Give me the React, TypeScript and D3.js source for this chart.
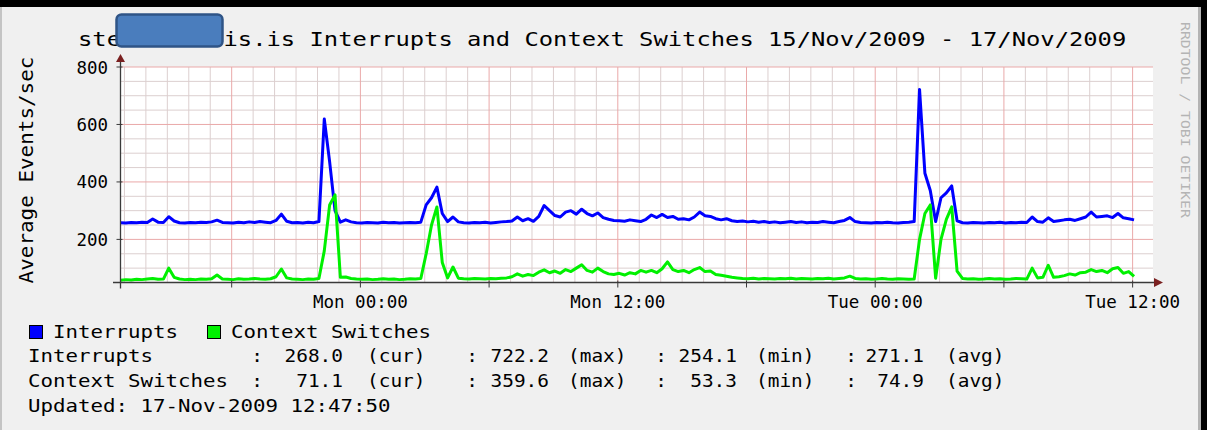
import React from 'react';
import * as d3 from 'd3';

// ---------------- data ----------------
const startTime = new Date(2009, 10, 15, 12, 49);
const endTime = new Date(2009, 10, 17, 12, 57);
const stepMinutes = 15;

const interrupts = [
  258, 257, 259, 258, 260, 259, 271, 260, 259, 279,
  264, 258, 257, 259, 258, 260, 259, 261, 267, 259,
  258, 257, 260, 258, 261, 259, 262, 260, 258, 266,
  288, 263, 258, 259, 257, 260, 258, 262, 619, 470,
  300, 260, 268, 261, 258, 257, 259, 258, 257, 260,
  258, 259, 257, 258, 259, 258, 260, 320, 345, 382,
  290, 262, 278, 261, 258, 257, 259, 258, 260, 257,
  259, 261, 262, 264, 278, 265, 272, 263, 280, 318,
  300, 283, 278, 295, 300, 288, 305, 290, 282, 292,
  276, 270, 266, 265, 263, 268, 265, 262, 270, 285,
  276, 287, 276, 280, 270, 272, 268, 278, 295, 282,
  280, 272, 268, 272, 265, 262, 264, 261, 263, 260,
  262, 259, 261, 258, 260, 262, 259, 261, 258, 260,
  259, 262, 260, 258, 262, 266, 276, 262, 259, 258,
  257, 259, 258, 260, 258, 257, 259, 260, 262, 722,
  430, 370, 262, 345, 362, 386, 265, 258, 257, 259,
  258, 257, 259, 258, 260, 257, 259, 258, 260, 259,
  278, 262, 260, 275, 262, 265, 268, 270, 266, 272,
  278, 295, 278, 280, 282, 276, 290, 275, 272, 268,
];

const contextSwitches = [
  58, 60, 59, 61, 60, 62, 64, 61, 62, 100,
  68, 62, 60, 61, 60, 62, 61, 63, 76, 62,
  61, 60, 63, 61, 62, 64, 62, 61, 63, 70,
  97, 66, 62, 61, 60, 62, 61, 64, 160, 320,
  355, 68, 69, 64, 62, 61, 62, 60, 61, 63,
  61, 62, 60, 61, 63, 62, 64, 150, 250, 313,
  120, 66, 104, 65, 63, 62, 64, 63, 62, 64,
  63, 65, 66, 70, 80, 72, 78, 74, 86, 94,
  84, 90, 82, 95, 88, 100, 112, 92, 86, 100,
  88, 80, 78, 82, 76, 84, 80, 92, 86, 92,
  84, 98, 122, 95, 88, 92, 84, 95, 102, 88,
  90, 78, 75, 72, 68, 66, 64, 63, 65, 62,
  64, 63, 62, 64, 63, 65, 62, 64, 63, 62,
  64, 63, 65, 62, 64, 66, 72, 64, 62, 63,
  61, 62, 64, 62, 61, 63, 62, 61, 62, 200,
  290, 320, 65, 200, 270, 313, 90, 64, 62, 63,
  61, 62, 64, 62, 63, 61, 62, 64, 63, 62,
  100, 66, 68, 110, 68, 70, 74, 80, 76, 84,
  86, 95, 88, 92, 84, 98, 102, 82, 88, 71,
];

const yTickValues = [200, 400, 600, 800];
const xTickTimes = [
  new Date(2009, 10, 16, 0, 0),
  new Date(2009, 10, 16, 12, 0),
  new Date(2009, 10, 17, 0, 0),
  new Date(2009, 10, 17, 12, 0),
];
const xTickLabels = ['Mon 00:00', 'Mon 12:00', 'Tue 00:00', 'Tue 12:00'];

const seriesNames = ['Interrupts', 'Context Switches'];
const seriesColors = ['#0000ff', '#00f000'];
const interruptsStats = ['268.0', '722.2', '254.1', '271.1'];
const contextStats = ['71.1', '359.6', '53.3', '74.9'];
const statLabels = ['(cur)', '(max)', '(min)', '(avg)'];

const titleStart = 'ste';
const titleRest = 'is.is Interrupts and Context Switches 15/Nov/2009 - 17/Nov/2009';
const yAxisTitle = 'Average Events/sec';
const sideText = 'RRDTOOL / TOBI OETIKER';
const updatedText = 'Updated: 17-Nov-2009 12:47:50';

// ---------------- layout ----------------
const W = 1207;
const H = 430;
const PL = 120.5;
const PR = 1153;
const PT = 67;
const PB = 282.5;
const MONO = "'DejaVu Sans Mono', monospace";

type TProps = {
  x: number; y: number; text: string; size: number; pitch: number;
  anchor?: 'start' | 'middle' | 'end'; fill?: string; transform?: string;
};
function T({ x, y, text, size, pitch, anchor = 'start', fill = '#000', transform }: TProps) {
  return (
    <text
      x={x}
      y={y}
      transform={transform}
      fontFamily={MONO}
      fontSize={size}
      textLength={text.length * pitch}
      lengthAdjust="spacingAndGlyphs"
      textAnchor={anchor}
      fill={fill}
      style={{ whiteSpace: 'pre' }}
    >
      {text}
    </text>
  );
}

export default function App() {
  const x = d3.scaleTime().domain([startTime, endTime]).range([PL, PR]);
  const y = d3.scaleLinear().domain([50, 800]).range([PB, PT]);
  const times = interrupts.map((_, i) => d3.timeMinute.offset(startTime, i * stepMinutes));
  const line = d3
    .line<number>()
    .x((_, i) => x(times[i]))
    .y((d) => y(d))
    .curve(d3.curveLinear);

  const hours = d3.timeHour.range(d3.timeHour.ceil(startTime), endTime);
  const minorX = hours.filter((d) => d.getHours() % 6 !== 0);
  const majorX = hours.filter((d) => d.getHours() % 6 === 0);
  const yGridAll = d3.range(100, 801, 50);
  const minorY = yGridAll.filter((v) => v % 200 !== 0);
  const majorY = yGridAll.filter((v) => v % 200 === 0);

  const minorColor = '#dccfcf';
  const majorColor = '#eaa9a9';
  const axisColor = '#3a3a3a';
  const arrowColor = '#7a2020';

  const numRight = [343, 549, 737, 924];
  const labStart = [367, 568, 756, 946];
  const colonC = [257, 472, 661, 851];
  const LEG = 17;
  const LP = 12.5;
  const SP = 11.7;
  const rows = [
    { name: seriesNames[0], stats: interruptsStats, yb: 362 },
    { name: seriesNames[1], stats: contextStats, yb: 387 },
  ];

  return (
    <div style={{ position: 'absolute', left: 0, top: 0 }}>
      <svg width={W} height={H} viewBox={`0 0 ${W} ${H}`} style={{ display: 'block' }}>
        {/* canvas */}
        <rect x={0} y={0} width={W} height={H} fill="#f0f0f0" />
        <rect x={0} y={0} width={2} height={H} fill="#c4c4c4" />
        <rect x={1198} y={0} width={3} height={H} fill="#b4b4b4" />
        <rect x={1201} y={0} width={6} height={H} fill="#000" />
        <rect x={0} y={0} width={W} height={7} fill="#000" />

        {/* plot area */}
        <rect x={PL} y={PT} width={PR - PL} height={PB - PT} fill="#ffffff" />

        {/* grid */}
        {minorX.map((d, i) => (
          <line key={'mx' + i} x1={x(d)} x2={x(d)} y1={PT} y2={PB} stroke={minorColor} strokeWidth={1} />
        ))}
        {minorY.map((v, i) => (
          <line key={'my' + i} x1={PL} x2={PR} y1={y(v)} y2={y(v)} stroke={minorColor} strokeWidth={1} />
        ))}
        {majorX.map((d, i) => (
          <line key={'Mx' + i} x1={x(d)} x2={x(d)} y1={PT} y2={PB} stroke={majorColor} strokeWidth={1} />
        ))}
        {majorY.map((v, i) => (
          <line key={'My' + i} x1={PL} x2={PR} y1={y(v)} y2={y(v)} stroke={majorColor} strokeWidth={1} />
        ))}

        {/* series */}
        <path d={line(interrupts) || ''} fill="none" stroke={seriesColors[0]} strokeWidth={3} strokeLinejoin="round" />
        <path d={line(contextSwitches) || ''} fill="none" stroke={seriesColors[1]} strokeWidth={3} strokeLinejoin="round" />

        {/* axes */}
        <line x1={113} x2={1156} y1={PB} y2={PB} stroke={axisColor} strokeWidth={1.3} />
        <line x1={PL} x2={PL} y1={PB + 6} y2={61} stroke={axisColor} strokeWidth={1.3} />
        <path d={`M${PL - 4.5},${62} L${PL + 4.5},${62} L${PL},${54} Z`} fill={arrowColor} />
        <path d={`M${1154},${PB - 4.5} L${1154},${PB + 4.5} L${1163},${PB} Z`} fill={arrowColor} />
        {majorX.map((d, i) => (
          <line key={'tx' + i} x1={x(d)} x2={x(d)} y1={PB - 2} y2={PB + 5} stroke={axisColor} strokeWidth={1} />
        ))}
        {majorY.map((v, i) => (
          <line key={'ty' + i} x1={PL - 4} x2={PL + 2} y1={y(v)} y2={y(v)} stroke={axisColor} strokeWidth={1} />
        ))}

        {/* y tick labels */}
        {yTickValues.map((v) => (
          <T key={'yl' + v} x={108} y={y(v) + 6.5} text={String(v)} size={17.5} pitch={10.5} anchor="end" />
        ))}
        {/* x tick labels */}
        {xTickTimes.map((d, i) => (
          <T key={'xl' + i} x={x(d)} y={308} text={xTickLabels[i]} size={17.5} pitch={10.55} anchor="middle" />
        ))}

        {/* title */}
        <T x={78} y={46} text={titleStart} size={19.5} pitch={14.33} />
        <T x={223.5} y={46} text={titleRest} size={19.5} pitch={14.33} />
        <rect x={116.5} y={14.5} width={106} height={32} rx={5} ry={5} fill="#4a7dbd" stroke="#2f5486" strokeWidth={2.5} />

        {/* y axis title */}
        <T x={0} y={0} transform="translate(33,170) rotate(-90)" text={yAxisTitle} size={19} pitch={12.6} anchor="middle" />

        {/* side text */}
        <T x={0} y={0} transform="translate(1181,22) rotate(90)" text={sideText} size={12.5} pitch={8.9} fill="#b4b4b4" />

        {/* legend */}
        <rect x={29.5} y={325.5} width={13} height={13} fill={seriesColors[0]} stroke="#000" strokeWidth={1} />
        <T x={53} y={338} text={seriesNames[0]} size={LEG} pitch={LP} />
        <rect x={207.5} y={325.5} width={13} height={13} fill={seriesColors[1]} stroke="#000" strokeWidth={1} />
        <T x={231} y={338} text={seriesNames[1]} size={LEG} pitch={LP} />

        {rows.map((r, ri) => (
          <g key={'row' + ri}>
            <T x={28} y={r.yb} text={r.name} size={LEG} pitch={LP} />
            {r.stats.map((s, k) => (
              <g key={k}>
                <T x={colonC[k]} y={r.yb} text=":" size={LEG} pitch={SP} anchor="middle" />
                <T x={numRight[k]} y={r.yb} text={s} size={LEG} pitch={SP} anchor="end" />
                <T x={labStart[k]} y={r.yb} text={statLabels[k]} size={LEG} pitch={SP} />
              </g>
            ))}
          </g>
        ))}
        <T x={28} y={412} text={updatedText} size={LEG} pitch={LP} />
      </svg>
    </div>
  );
}
